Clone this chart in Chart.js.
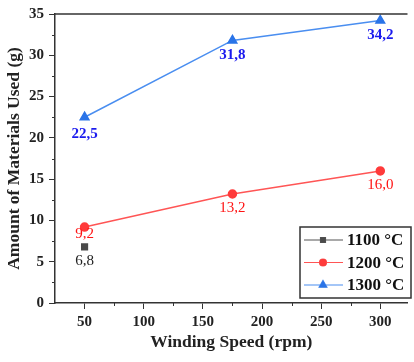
<!DOCTYPE html>
<html>
<head>
<meta charset="utf-8">
<script src="https://cdn.jsdelivr.net/npm/chart.js@4"></script>
<style>
  body { margin: 0; background: #fff; overflow: hidden; }
</style>
</head>
<body>
<canvas id="chart" width="414" height="362"></canvas>
<script>
// data
const seriesLabels = ['1100 °C', '1200 °C', '1300 °C'];
const speeds1100 = [50];
const values1100 = [6.8];
const speeds1200 = [50, 175, 300];
const values1200 = [9.2, 13.2, 16.0];
const speeds1300 = [50, 175, 300];
const values1300 = [22.5, 31.8, 34.2];
const xTicks = [50, 100, 150, 200, 250, 300];

const serif = "'Liberation Serif', 'Times New Roman', serif";

const toPoints = (xs, ys) => xs.map((x, i) => ({ x: x, y: ys[i] }));

// value labels under the points
const valueLabels = {
  id: 'valueLabels',
  afterDatasetsDraw(chart) {
    const ctx = chart.ctx;
    chart.data.datasets.forEach((ds, di) => {
      const meta = chart.getDatasetMeta(di);
      ctx.save();
      ctx.font = (ds.labelBold ? 'bold ' : '') + '15px ' + serif;
      ctx.fillStyle = ds.labelColor;
      ctx.textAlign = 'center';
      ctx.textBaseline = 'middle';
      meta.data.forEach((pt, i) => {
        const txt = ds.data[i].y.toFixed(1).replace('.', ',');
        ctx.fillText(txt, pt.x, pt.y + ds.labelOffset[i]);
      });
      ctx.restore();
    });
  }
};

// top frame line, minor ticks and the boxed legend
const frame = {
  id: 'frame',
  afterDraw(chart) {
    const ctx = chart.ctx;
    const a = chart.chartArea;
    const xs = chart.scales.x, ys = chart.scales.y;
    ctx.save();
    ctx.strokeStyle = '#333';
    ctx.lineWidth = 1.5;
    ctx.beginPath();
    ctx.moveTo(a.left, a.top);
    ctx.lineTo(a.right, a.top);
    ctx.stroke();

    ctx.lineWidth = 1;
    ctx.beginPath();
    for (let v = 2.5; v < 35; v += 5) {
      const y = Math.round(ys.getPixelForValue(v)) + 0.5;
      ctx.moveTo(a.left - 3, y);
      ctx.lineTo(a.left, y);
    }
    for (let v = 75; v < 300; v += 50) {
      const x = Math.round(xs.getPixelForValue(v)) + 0.5;
      ctx.moveTo(x, a.bottom);
      ctx.lineTo(x, a.bottom + 3);
    }
    ctx.stroke();

    // legend
    const bx = 300, by = 227, bw = 111, bh = 71;
    ctx.fillStyle = '#fff';
    ctx.fillRect(bx, by, bw, bh);
    ctx.strokeStyle = '#333';
    ctx.lineWidth = 1.5;
    ctx.strokeRect(bx, by, bw, bh);
    chart.data.datasets.forEach((ds, i) => {
      const y = by + 13 + i * 22.5;
      ctx.strokeStyle = ds.borderColor;
      ctx.lineWidth = 1.2;
      ctx.beginPath();
      ctx.moveTo(bx + 4, y);
      ctx.lineTo(bx + 43, y);
      ctx.stroke();
      Chart.helpers.drawPoint(ctx, {
        pointStyle: ds.pointStyle,
        radius: ds.pointRadius - 0.5,
        rotation: 0,
        borderWidth: 1
      }, bx + 23, y);
      ctx.fillStyle = ds.pointBackgroundColor;
      ctx.strokeStyle = ds.pointBackgroundColor;
      ctx.fill();
      ctx.fillStyle = '#111';
      ctx.font = 'bold 17px ' + serif;
      ctx.textAlign = 'left';
      ctx.textBaseline = 'middle';
      ctx.fillText(ds.label, bx + 47, y + 1);
    });
    ctx.restore();
  }
};

new Chart(document.getElementById('chart'), {
  type: 'line',
  data: {
    datasets: [
      {
        label: seriesLabels[0],
        data: toPoints(speeds1100, values1100),
        borderColor: '#555',
        backgroundColor: '#4a4a4a',
        pointBackgroundColor: '#4a4a4a',
        pointBorderColor: '#4a4a4a',
        pointStyle: 'rect',
        pointRadius: 4,
        borderWidth: 1.5,
        labelColor: '#222',
        labelBold: false,
        labelOffset: [14]
      },
      {
        label: seriesLabels[1],
        data: toPoints(speeds1200, values1200),
        borderColor: '#ff5555',
        backgroundColor: '#ff3b3b',
        pointBackgroundColor: '#ff3b3b',
        pointBorderColor: '#ff3b3b',
        pointStyle: 'circle',
        pointRadius: 4,
        borderWidth: 1.5,
        labelColor: '#ff1414',
        labelBold: false,
        labelOffset: [7, 14, 14]
      },
      {
        label: seriesLabels[2],
        data: toPoints(speeds1300, values1300),
        borderColor: '#4a8ef0',
        backgroundColor: '#2a74e8',
        pointBackgroundColor: '#2a74e8',
        pointBorderColor: '#2a74e8',
        pointStyle: 'triangle',
        pointRadius: 5,
        borderWidth: 1.5,
        labelColor: '#1a1aee',
        labelBold: true,
        labelOffset: [17, 15, 15]
      }
    ]
  },
  options: {
    responsive: false,
    devicePixelRatio: 1,
    animation: false,
    layout: { padding: { top: 14, right: 0, left: 0, bottom: 0 } },
    plugins: {
      legend: { display: false },
      tooltip: { enabled: false }
    },
    scales: {
      x: {
        type: 'linear',
        min: 25,
        max: 323,
        afterBuildTicks: (scale) => { scale.ticks = xTicks.map(v => ({ value: v })); },
        afterFit: (scale) => { scale.height = 59; },
        grid: { drawOnChartArea: false, tickLength: 6, tickColor: '#333', tickWidth: 1 },
        border: { color: '#333', width: 1.5 },
        ticks: {
          color: '#222',
          padding: 4,
          maxRotation: 0,
          font: { family: serif, size: 15, weight: 'bold' }
        },
        title: {
          display: true,
          text: 'Winding Speed (rpm)',
          color: '#222',
          font: { family: serif, size: 17.5, weight: 'bold' },
          padding: { top: 2, bottom: 9 }
        }
      },
      y: {
        min: 0,
        max: 35,
        afterFit: (scale) => { scale.width = 55; },
        grid: { drawOnChartArea: false, tickLength: 6, tickColor: '#333', tickWidth: 1 },
        border: { color: '#333', width: 1.5 },
        ticks: {
          stepSize: 5,
          color: '#222',
          padding: 5,
          font: { family: serif, size: 15, weight: 'bold' }
        },
        title: {
          display: true,
          text: 'Amount of Materials Used (g)',
          color: '#222',
          font: { family: serif, size: 17.5, weight: 'bold' },
          padding: { top: 4, bottom: 2 }
        }
      }
    }
  },
  plugins: [valueLabels, frame]
});
</script>
</body>
</html>
